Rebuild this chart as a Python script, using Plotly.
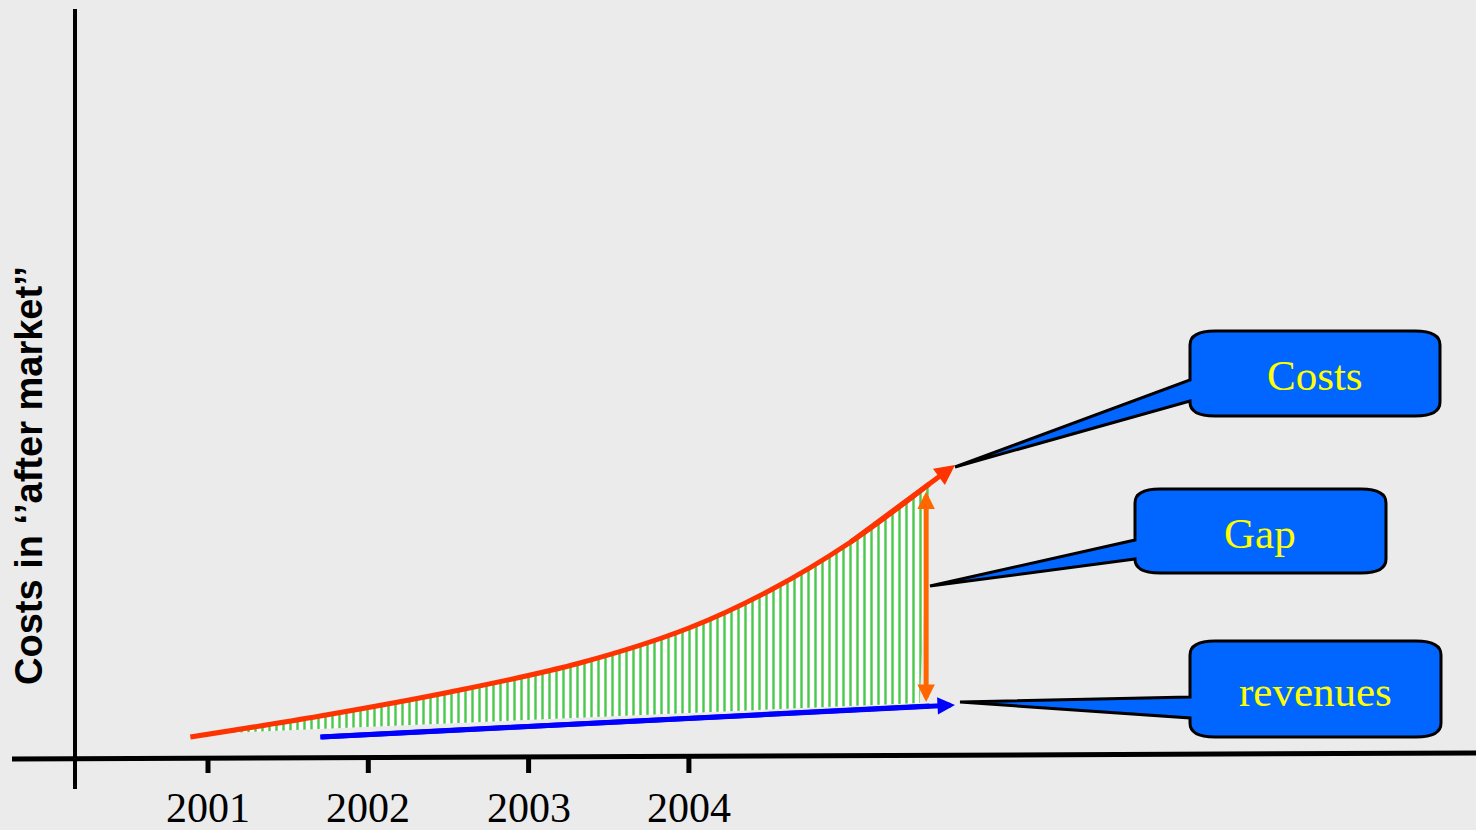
import plotly.graph_objects as go

# ---------------- data ----------------
tick_years = [2001, 2002, 2003, 2004]
tick_labels = ["2001", "2002", "2003", "2004"]

cost_years = [2000.89, 2001.70, 2002.51, 2003.32, 2004.00, 2004.51, 2005.00, 2005.50]
cost_values = [2.0, 4.1, 6.5, 9.4, 12.9, 16.7, 21.4, 27.3]
cost_arrow_tip = (2005.66, 29.2)

revenue_years = [2001.70, 2005.50]
revenue_values = [2.0, 5.1]
revenue_arrow_tip = (2005.66, 5.2)

gap_base_years = [2000.96, 2005.44]
gap_base_values = [2.3, 5.4]
gap_year = 2005.48
gap_low_high = [5.5, 26.7]

callout_labels = ["Costs", "Gap", "revenues"]

# ---------------- layout helpers (pixel -> axis units) ----------------
W, H = 1476, 830
PX_PER_YEAR = 160.3
X_LEFT = 2001 - 208 / PX_PER_YEAR
X_RIGHT = X_LEFT + W / PX_PER_YEAR
Y_TOP = 75.7
Y_BOTTOM = Y_TOP - H / 10.0


def X(px):
    return X_LEFT + px / PX_PER_YEAR


def Y(py):
    return Y_TOP - py / 10.0


BG = "#ebebeb"
RED = "#ff3300"
BLUE = "#0000ff"
ORANGE = "#ff6600"
CALLOUT = "#0066ff"

fig = go.Figure()

# hatched gap region
fig.add_trace(go.Scatter(x=gap_base_years, y=gap_base_values, mode="lines",
                         line=dict(width=0, color="rgba(0,0,0,0)"),
                         hoverinfo="skip"))
fig.add_trace(go.Scatter(x=cost_years, y=cost_values, mode="lines",
                         line=dict(width=0, shape="spline", color="rgba(0,0,0,0)"),
                         fill="tonexty", fillcolor="white",
                         fillpattern=dict(shape="|", fgcolor="#4cc94c", bgcolor="white",
                                          fgopacity=1, size=7, solidity=0.35),
                         hoverinfo="skip"))

# cost curve
fig.add_trace(go.Scatter(x=cost_years, y=cost_values, mode="lines",
                         line=dict(width=5, color=RED, shape="spline")))
# revenue line
fig.add_trace(go.Scatter(x=revenue_years, y=revenue_values, mode="lines",
                         line=dict(width=5, color=BLUE)))

# arrow heads
fig.add_annotation(x=cost_arrow_tip[0], y=cost_arrow_tip[1],
                   ax=cost_years[-2], ay=cost_values[-2], axref="x", ayref="y",
                   xref="x", yref="y", text="", showarrow=True,
                   arrowhead=2, arrowsize=0.8, arrowwidth=5, arrowcolor=RED, standoff=0)
fig.add_annotation(x=revenue_arrow_tip[0], y=revenue_arrow_tip[1],
                   ax=revenue_years[0], ay=revenue_values[0],
                   axref="x", ayref="y", xref="x", yref="y", text="", showarrow=True,
                   arrowhead=2, arrowsize=0.7, arrowwidth=5, arrowcolor=BLUE, standoff=0)
# gap double arrow
fig.add_annotation(x=gap_year, y=gap_low_high[0], ax=gap_year, ay=gap_low_high[1],
                   axref="x", ayref="y", xref="x", yref="y", text="", showarrow=True,
                   arrowhead=2, startarrowhead=2, arrowside="end+start",
                   arrowsize=0.7, startarrowsize=0.7, arrowwidth=5,
                   arrowcolor=ORANGE, standoff=0, startstandoff=0)

shapes = []
# axes lines
shapes.append(dict(type="line", x0=X(12), y0=Y(759), x1=X(1476), y1=Y(753),
                   line=dict(color="black", width=5), layer="above"))
shapes.append(dict(type="line", x0=X(75), y0=Y(9), x1=X(75), y1=Y(789),
                   line=dict(color="black", width=4), layer="above"))
for yr in tick_years:
    shapes.append(dict(type="line", x0=yr, x1=yr, y0=Y(758), y1=Y(773),
                       line=dict(color="black", width=5)))


def callout_path(l, t, r, b, j1, j2, tx, ty, rx=25, ry=14):
    pts = [
        ("M", [(tx, ty)]),
        ("L", [(l, j1)]),
        ("L", [(l, t + ry)]),
        ("Q", [(l, t), (l + rx, t)]),
        ("L", [(r - rx, t)]),
        ("Q", [(r, t), (r, t + ry)]),
        ("L", [(r, b - ry)]),
        ("Q", [(r, b), (r - rx, b)]),
        ("L", [(l + rx, b)]),
        ("Q", [(l, b), (l, b - ry)]),
        ("L", [(l, j2)]),
    ]
    s = ""
    for cmd, ps in pts:
        s += cmd + " ".join(f"{X(px):.5f},{Y(py):.5f}" for px, py in ps) + " "
    return s + "Z"


callouts = [
    dict(box=(1190, 331, 1440, 416), joins=(380, 401), tip=(955, 467), text=(1315, 375)),
    dict(box=(1135, 489, 1386, 573), joins=(540, 559), tip=(930, 586), text=(1260, 533)),
    dict(box=(1190, 641, 1441, 737), joins=(697, 718), tip=(960, 702), text=(1315, 691)),
]
for c, label in zip(callouts, callout_labels):
    l, t, r, b = c["box"]
    shapes.append(dict(type="path",
                       path=callout_path(l, t, r, b, c["joins"][0], c["joins"][1],
                                         c["tip"][0], c["tip"][1]),
                       xref="x", yref="y", fillcolor=CALLOUT,
                       line=dict(color="black", width=3), layer="above"))
    fig.add_annotation(x=X(c["text"][0]), y=Y(c["text"][1]), text=label,
                       showarrow=False, xanchor="center", yanchor="middle",
                       font=dict(family="Liberation Serif, Times New Roman, serif",
                                 size=43, color="#ffff00"))

# tick labels
for yr, lab in zip(tick_years, tick_labels):
    fig.add_annotation(x=yr, y=Y(808), text=lab, showarrow=False,
                       xanchor="center", yanchor="middle",
                       font=dict(family="Liberation Serif, Times New Roman, serif",
                                 size=42, color="black"))

# y-axis title
fig.add_annotation(x=X(29), y=Y(476), text="<b>Costs in \u2018\u2019after market\u2019\u2019</b>",
                   showarrow=False, textangle=-90, xanchor="center", yanchor="middle",
                   font=dict(family="Liberation Sans, Arial, sans-serif", size=38,
                             color="black"))

fig.update_layout(
    width=W, height=H,
    margin=dict(l=0, r=0, t=0, b=0),
    paper_bgcolor=BG, plot_bgcolor=BG,
    showlegend=False,
    shapes=shapes,
    xaxis=dict(range=[X_LEFT, X_RIGHT], visible=False, fixedrange=True),
    yaxis=dict(range=[Y_BOTTOM, Y_TOP], visible=False, fixedrange=True),
)

fig.write_html("out.html")
